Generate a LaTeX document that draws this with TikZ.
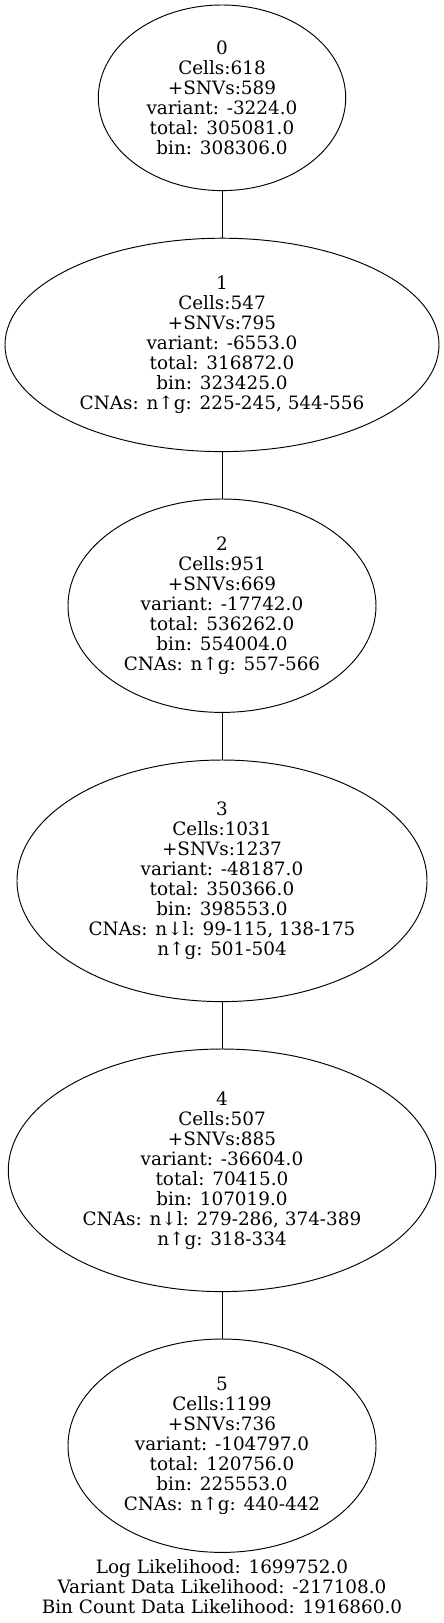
\documentclass[tikz,border=0pt]{standalone}
\usepackage{fontspec}
\setmainfont{DejaVu Serif}
\usepackage{tikz}
\usetikzlibrary{positioning}
\usetikzlibrary{shapes.geometric}

\tikzset{
	clone/.style={draw, ellipse, inner sep=0pt, outer sep=0pt, line width=0.95pt, align=center,
		font={\fontsize{18.4pt}{20pt}\selectfont}},
	treeedge/.style={line width=0.95pt},
	loglabel/.style={align=center, inner sep=0pt, font={\fontsize{18.4pt}{20pt}\selectfont}},
}

\begin{document}
\begin{tikzpicture}
		
		% ---------------------
		% Proper size --- Bounding box
		\useasboundingbox (0pt, 0pt) rectangle (444pt, -1623pt);
		
		% ---------------------
		% Root of the tree
		
		\coordinate (Root) at (222pt,-97.8pt);
		
		\node[clone, minimum width=247.4pt, minimum height=185.6pt] (N0) at (Root)
		{0\\Cells:618\\+SNVs:589\\variant: -3224.0\\total: 305081.0\\bin: 308306.0};
		
		\node[clone, minimum width=434pt, minimum height=213.4pt, below=47.6pt of N0] (N1)
		{1\\Cells:547\\+SNVs:795\\variant: -6553.0\\total: 316872.0\\bin: 323425.0\\CNAs: n↑g: 225-245, 544-556};
		
		\node[clone, minimum width=308pt, minimum height=213.4pt, below=47.4pt of N1] (N2)
		{2\\Cells:951\\+SNVs:669\\variant: -17742.0\\total: 536262.0\\bin: 554004.0\\CNAs: n↑g: 557-566};
		
		\node[clone, minimum width=410pt, minimum height=241.6pt, below=47.6pt of N2] (N3)
		{3\\Cells:1031\\+SNVs:1237\\variant: -48187.0\\total: 350366.0\\bin: 398553.0\\CNAs: n↓l: 99-115, 138-175\\n↑g: 501-504};
		
		\node[clone, minimum width=427.4pt, minimum height=242.6pt, below=47.4pt of N3] (N4)
		{4\\Cells:507\\+SNVs:885\\variant: -36604.0\\total: 70415.0\\bin: 107019.0\\CNAs: n↓l: 279-286, 374-389\\n↑g: 318-334};
		
		\node[clone, minimum width=308pt, minimum height=213.4pt, below=47.4pt of N4] (N5)
		{5\\Cells:1199\\+SNVs:736\\variant: -104797.0\\total: 120756.0\\bin: 225553.0\\CNAs: n↑g: 440-442};
		
		% ---------------------
		% Likelihood summary
		\node[loglabel, below=34.7pt of N5.south, anchor=center] (LL)
		{Log Likelihood: 1699752.0\\Variant Data Likelihood: -217108.0\\Bin Count Data Likelihood: 1916860.0};
		
		% ---------------------
		\foreach \a/\b in {N0/N1, N1/N2, N2/N3, N3/N4, N4/N5}
		\draw[treeedge] (\a) -- (\b);
		
\end{tikzpicture}
\end{document}
